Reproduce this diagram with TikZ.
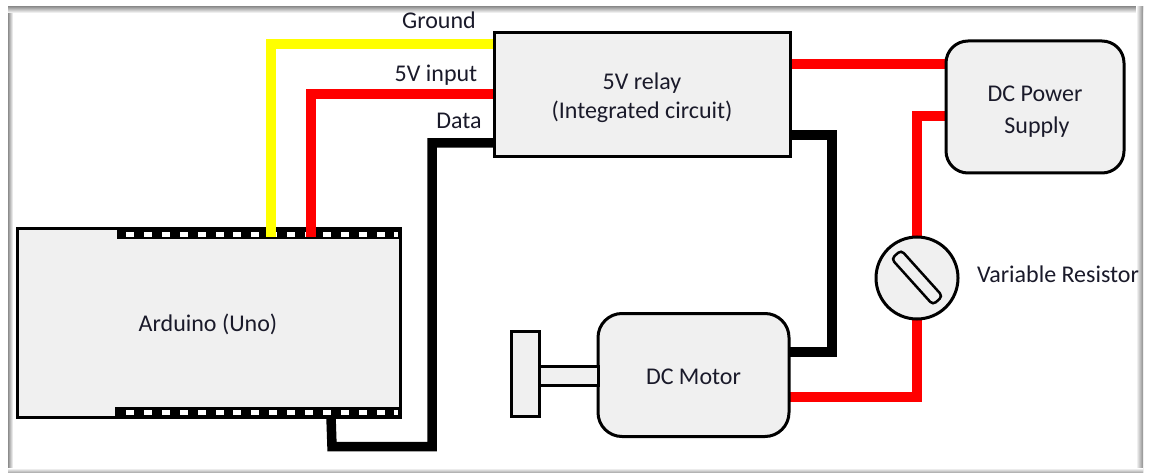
\documentclass[tikz,border=0pt]{standalone}
\usepackage{fontspec}
\setmainfont{Carlito}
\usetikzlibrary{calc}
\pgfdeclarelayer{paper}
\pgfdeclarelayer{back}
\pgfdeclarelayer{wires}
\pgfsetlayers{paper,back,wires,main}
\definecolor{boxfill}{HTML}{F0F0F0}
\definecolor{ink}{HTML}{1A1A2A}
\newcommand{\pxw}{0.75pt}
\tikzset{
  x=0.75pt,y=-0.75pt,
  part/.style={draw=black,fill=boxfill,line width=3*\pxw,inner sep=0pt,outer sep=0pt,text=ink,font=\fontsize{18pt}{22pt}\selectfont},
  sized/.style 2 args={minimum width=#1*\pxw,minimum height=#2*\pxw},
  roundbox/.style={part,rounded corners=#1*\pxw,align=center},
  lbl/.style={text=ink,font=\fontsize{18pt}{22pt}\selectfont,inner sep=0pt},
  wire/.style={line width=9.5*\pxw,line join=miter},
  yellowwire/.style={wire,draw={rgb,255:red,255;green,255;blue,0}},
  redwire/.style={wire,draw=red},
  blackwire/.style={wire,draw=black},
  strip/.style={fill=black},
  pinhole/.style={fill=white,draw=none,inner sep=0pt,minimum width=8*\pxw,minimum height=5*\pxw}
}
\begin{document}
\begin{tikzpicture}
\useasboundingbox (0,0) rectangle (1152,474);
\begin{pgfonlayer}{paper}
\fill[white] (0,0) rectangle (1152,474);
% page edge shadow
\shade[left color=gray!90,right color=white] (8,7) rectangle (13,472);
\shade[top color=gray!80,bottom color=white] (8,7) rectangle (1143,13);
\shade[left color=white,right color=gray!90] (1136,7) rectangle (1143,472);
\shade[top color=white,bottom color=gray!60] (8,468) rectangle (1143,472);
\end{pgfonlayer}

% parts
\begin{pgfonlayer}{back}
  \node[part,sized={383}{189}] (arduino) at (208.5,322.5) {};
  \fill[strip] (117,228) rectangle (400,239);
  \fill[strip] (115,407) rectangle (400,417);
  \foreach \i in {0,...,14}{
    \node[pinhole] at ({130+\i*17.9},234.5) {};
    \node[pinhole] at ({130+\i*17.9},412) {};
  }
  \fill[white] (394,232) rectangle (398,237);
  \fill[white] (394,409.5) rectangle (398,414.5);
  \node[lbl] (arduinolabel) at (208,324) {Arduino (Uno)};
\end{pgfonlayer}
\node[part,sized={296}{124},align=center] (relay) at (642,95) {\rule{0pt}{17pt}5V relay\\(Integrated circuit)};
\node[roundbox=22,sized={178}{132}] (supply) at (1035,107) {\rule{0pt}{18pt}DC Power\\[2pt]\hspace*{3pt}Supply};
\node[roundbox=24,sized={191}{123}] (motor) at (693.5,375) {\rule{0pt}{15pt}DC Motor};
\node[part,sized={28}{85}] (disc) at (525,373.5) {};
\node[part,sized={59}{19}] (shaft) at (568.5,375.5) {};
\node[part,circle,minimum size=82*\pxw] (resistor) at (917,278) {};
\node[part,rotate=-48,rounded corners=4*\pxw,sized={62}{13},line width=2.5*\pxw] (slot) at (917,277.5) {};

\node[lbl] (ground) at (439,20) {Ground};
\node[lbl] (fivev) at (436,75) {5V input};
\node[lbl] (data) at (459,121) {Data};
\node[lbl] (varres) at (1058,274) {Variable Resistor};

% connector ends
\coordinate (pinY) at (271,237);
\coordinate (pinR) at (311,237);
\coordinate (pinD) at (331,417);
\coordinate (relayG) at (494,44);
\coordinate (relayV) at (494,94);
\coordinate (relayD) at (494,143);
\coordinate (relayP) at (790,64);
\coordinate (relayM) at (790,135);
\coordinate (supplyA) at (946,64);
\coordinate (supplyB) at (946,116);
\coordinate (motorM) at (790,352);
\coordinate (motorR) at (790,397);
\coordinate (dBottom) at (332,446.5);
\coordinate (dUp) at (432,446.5);

\begin{pgfonlayer}{wires}
  \draw[yellowwire] (pinY) |- (relayG);
  \draw[redwire] (pinR) |- (relayV);
  \draw[blackwire] (pinD) -- (dBottom) -- (dUp) |- (relayD);
  \draw[redwire] (relayP) -- (supplyA);
  \draw[blackwire] (relayM) -| (832,352) -- (motorM);
  \draw[redwire] (supplyB) -| (resistor.north);
  \draw[redwire] (resistor.south) |- (motorR);
\end{pgfonlayer}
\end{tikzpicture}
\end{document}
